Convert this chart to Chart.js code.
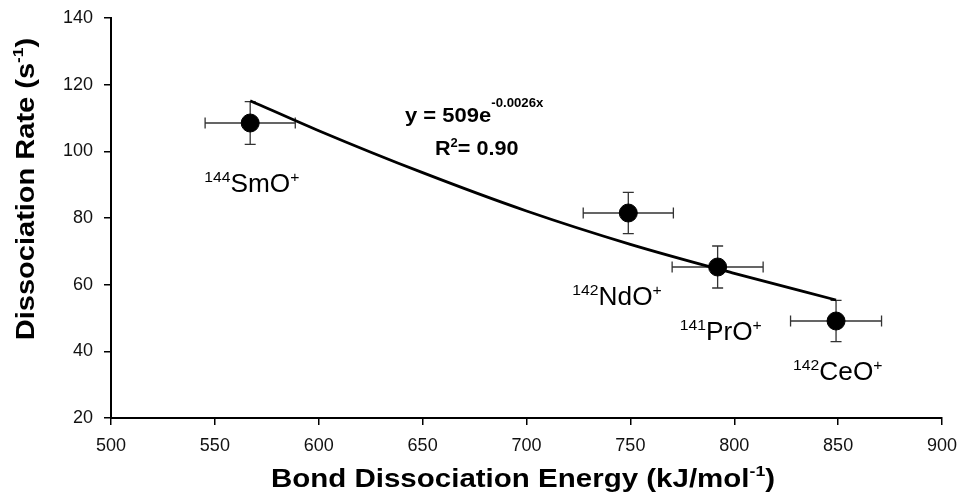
<!DOCTYPE html>
<html>
<head>
<meta charset="utf-8">
<script src="https://cdn.jsdelivr.net/npm/chart.js@4.4.0/dist/chart.umd.min.js"></script>
<style>
html,body{margin:0;padding:0;background:#fff;}
#wrap{width:960px;height:493px;position:relative;}
</style>
</head>
<body>
<div id="wrap"><canvas id="c" width="960" height="493"></canvas></div>
<script>
// ---- data ----
const energy = [567, 749, 792, 849];          // kJ/mol
const rate = [108.5, 81.5, 65.3, 49.1];       // s^-1
const energyErr = [21.7, 21.7, 21.9, 21.9];
const rateErr = [6.4, 6.2, 6.3, 6.2];
const isotopes = ['144', '142', '141', '142'];
const species = ['SmO', 'NdO', 'PrO', 'CeO'];
const fitX = [567, 600, 650, 700, 750, 800, 849];
const fitY = [115.2, 106.2, 93.6, 82.1, 72.1, 63.4, 55.4];
const xRange = [500, 900, 50];
const yRange = [20, 140, 20];

// ---- styling (label offsets in px from each point) ----
const labelOffsets = [[-46, 69], [-56, 92], [-38, 73], [-43, 59]];
const FONT = '"Liberation Sans", Arial, Helvetica, sans-serif';

function drawRich(ctx, parts, x, y, align, sx) {
  sx = sx || 1;
  let total = 0;
  parts.forEach(p => { ctx.font = p.font; p.w = ctx.measureText(p.t).width; total += p.w; });
  const x0 = align === 'center' ? x - total * sx / 2 : x;
  ctx.save();
  ctx.translate(x0, y);
  ctx.scale(sx, 1);
  ctx.textAlign = 'left';
  ctx.textBaseline = 'alphabetic';
  let cx = 0;
  parts.forEach(p => { ctx.font = p.font; ctx.fillText(p.t, cx, p.dy || 0); cx += p.w; });
  ctx.restore();
}

const overlay = {
  id: 'overlay',
  beforeDatasetsDraw(chart) {
    const ctx = chart.ctx, xs = chart.scales.x, ys = chart.scales.y;
    ctx.save();
    ctx.strokeStyle = '#333';
    ctx.lineWidth = 1.3;
    const cap = 5.5;
    for (let i = 0; i < energy.length; i++) {
      const px = xs.getPixelForValue(energy[i]), py = ys.getPixelForValue(rate[i]);
      const x1 = xs.getPixelForValue(energy[i] - energyErr[i]), x2 = xs.getPixelForValue(energy[i] + energyErr[i]);
      const y1 = ys.getPixelForValue(rate[i] + rateErr[i]), y2 = ys.getPixelForValue(rate[i] - rateErr[i]);
      ctx.beginPath();
      ctx.moveTo(x1, py); ctx.lineTo(x2, py);
      ctx.moveTo(x1, py - cap); ctx.lineTo(x1, py + cap);
      ctx.moveTo(x2, py - cap); ctx.lineTo(x2, py + cap);
      ctx.moveTo(px, y1); ctx.lineTo(px, y2);
      ctx.moveTo(px - cap, y1); ctx.lineTo(px + cap, y1);
      ctx.moveTo(px - cap, y2); ctx.lineTo(px + cap, y2);
      ctx.stroke();
    }
    ctx.restore();
  },
  afterDraw(chart) {
    const ctx = chart.ctx, xs = chart.scales.x, ys = chart.scales.y;
    ctx.save();
    ctx.fillStyle = '#000';
    // point labels
    for (let i = 0; i < energy.length; i++) {
      const px = xs.getPixelForValue(energy[i]) + labelOffsets[i][0];
      const py = ys.getPixelForValue(rate[i]) + labelOffsets[i][1];
      drawRich(ctx, [
        {t: isotopes[i], font: '15px ' + FONT, dy: -10},
        {t: species[i], font: '25px ' + FONT},
        {t: '+', font: '15px ' + FONT, dy: -10}
      ], px, py, 'left', 1.05);
    }
    // fit equation
    drawRich(ctx, [
      {t: 'y = 509e', font: 'bold 20px ' + FONT},
      {t: '-0.0026x', font: 'bold 12px ' + FONT, dy: -15}
    ], 405, 122, 'left', 1.1);
    drawRich(ctx, [
      {t: 'R', font: 'bold 20px ' + FONT},
      {t: '2', font: 'bold 12px ' + FONT, dy: -8},
      {t: '= 0.90', font: 'bold 20px ' + FONT}
    ], 435, 155, 'left', 1.08);
    // x axis title
    drawRich(ctx, [
      {t: 'Bond Dissociation Energy (kJ/mol', font: 'bold 25px ' + FONT},
      {t: '-1', font: 'bold 15px ' + FONT, dy: -11},
      {t: ')', font: 'bold 25px ' + FONT}
    ], 523, 487, 'center', 1.18);
    // y axis title
    ctx.translate(34, 189);
    ctx.rotate(-Math.PI / 2);
    drawRich(ctx, [
      {t: 'Dissociation Rate (s', font: 'bold 25px ' + FONT},
      {t: '-1', font: 'bold 15px ' + FONT, dy: -11},
      {t: ')', font: 'bold 25px ' + FONT}
    ], 0, 0, 'center', 1.16);
    ctx.restore();
  }
};

new Chart(document.getElementById('c'), {
  type: 'scatter',
  data: {
    datasets: [
      {
        label: 'fit',
        data: fitX.map((x, i) => ({x, y: fitY[i]})),
        showLine: true,
        borderColor: '#000',
        borderWidth: 2.8,
        pointRadius: 0,
        cubicInterpolationMode: 'monotone',
        fill: false,
        order: 1
      },
      {
        label: 'data',
        data: energy.map((x, i) => ({x, y: rate[i]})),
        backgroundColor: '#000',
        borderColor: '#000',
        pointRadius: 9,
        pointHoverRadius: 9,
        order: 0
      }
    ]
  },
  options: {
    responsive: false,
    animation: false,
    devicePixelRatio: 1,
    layout: {padding: {left: 0, top: 18, right: 18, bottom: 0}},
    plugins: {legend: {display: false}, tooltip: {enabled: false}},
    scales: {
      x: {
        type: 'linear', min: xRange[0], max: xRange[1],
        afterFit(s) { s.height = 75; s.paddingLeft = 0; s.paddingRight = 0; },
        ticks: {stepSize: xRange[2], color: '#111', font: {family: FONT, size: 18}, padding: 10, maxRotation: 0},
        grid: {drawOnChartArea: false, drawTicks: true, tickLength: 7, color: '#000', lineWidth: 1.5},
        border: {color: '#000', width: 2}
      },
      y: {
        type: 'linear', min: yRange[0], max: yRange[1],
        afterFit(s) { s.width = 111; s.paddingTop = 0; s.paddingBottom = 0; },
        ticks: {stepSize: yRange[2], color: '#111', font: {family: FONT, size: 18}, padding: 11},
        grid: {drawOnChartArea: false, drawTicks: true, tickLength: 7, color: '#000', lineWidth: 1.5},
        border: {color: '#000', width: 2}
      }
    }
  },
  plugins: [overlay]
});
</script>
</body>
</html>
